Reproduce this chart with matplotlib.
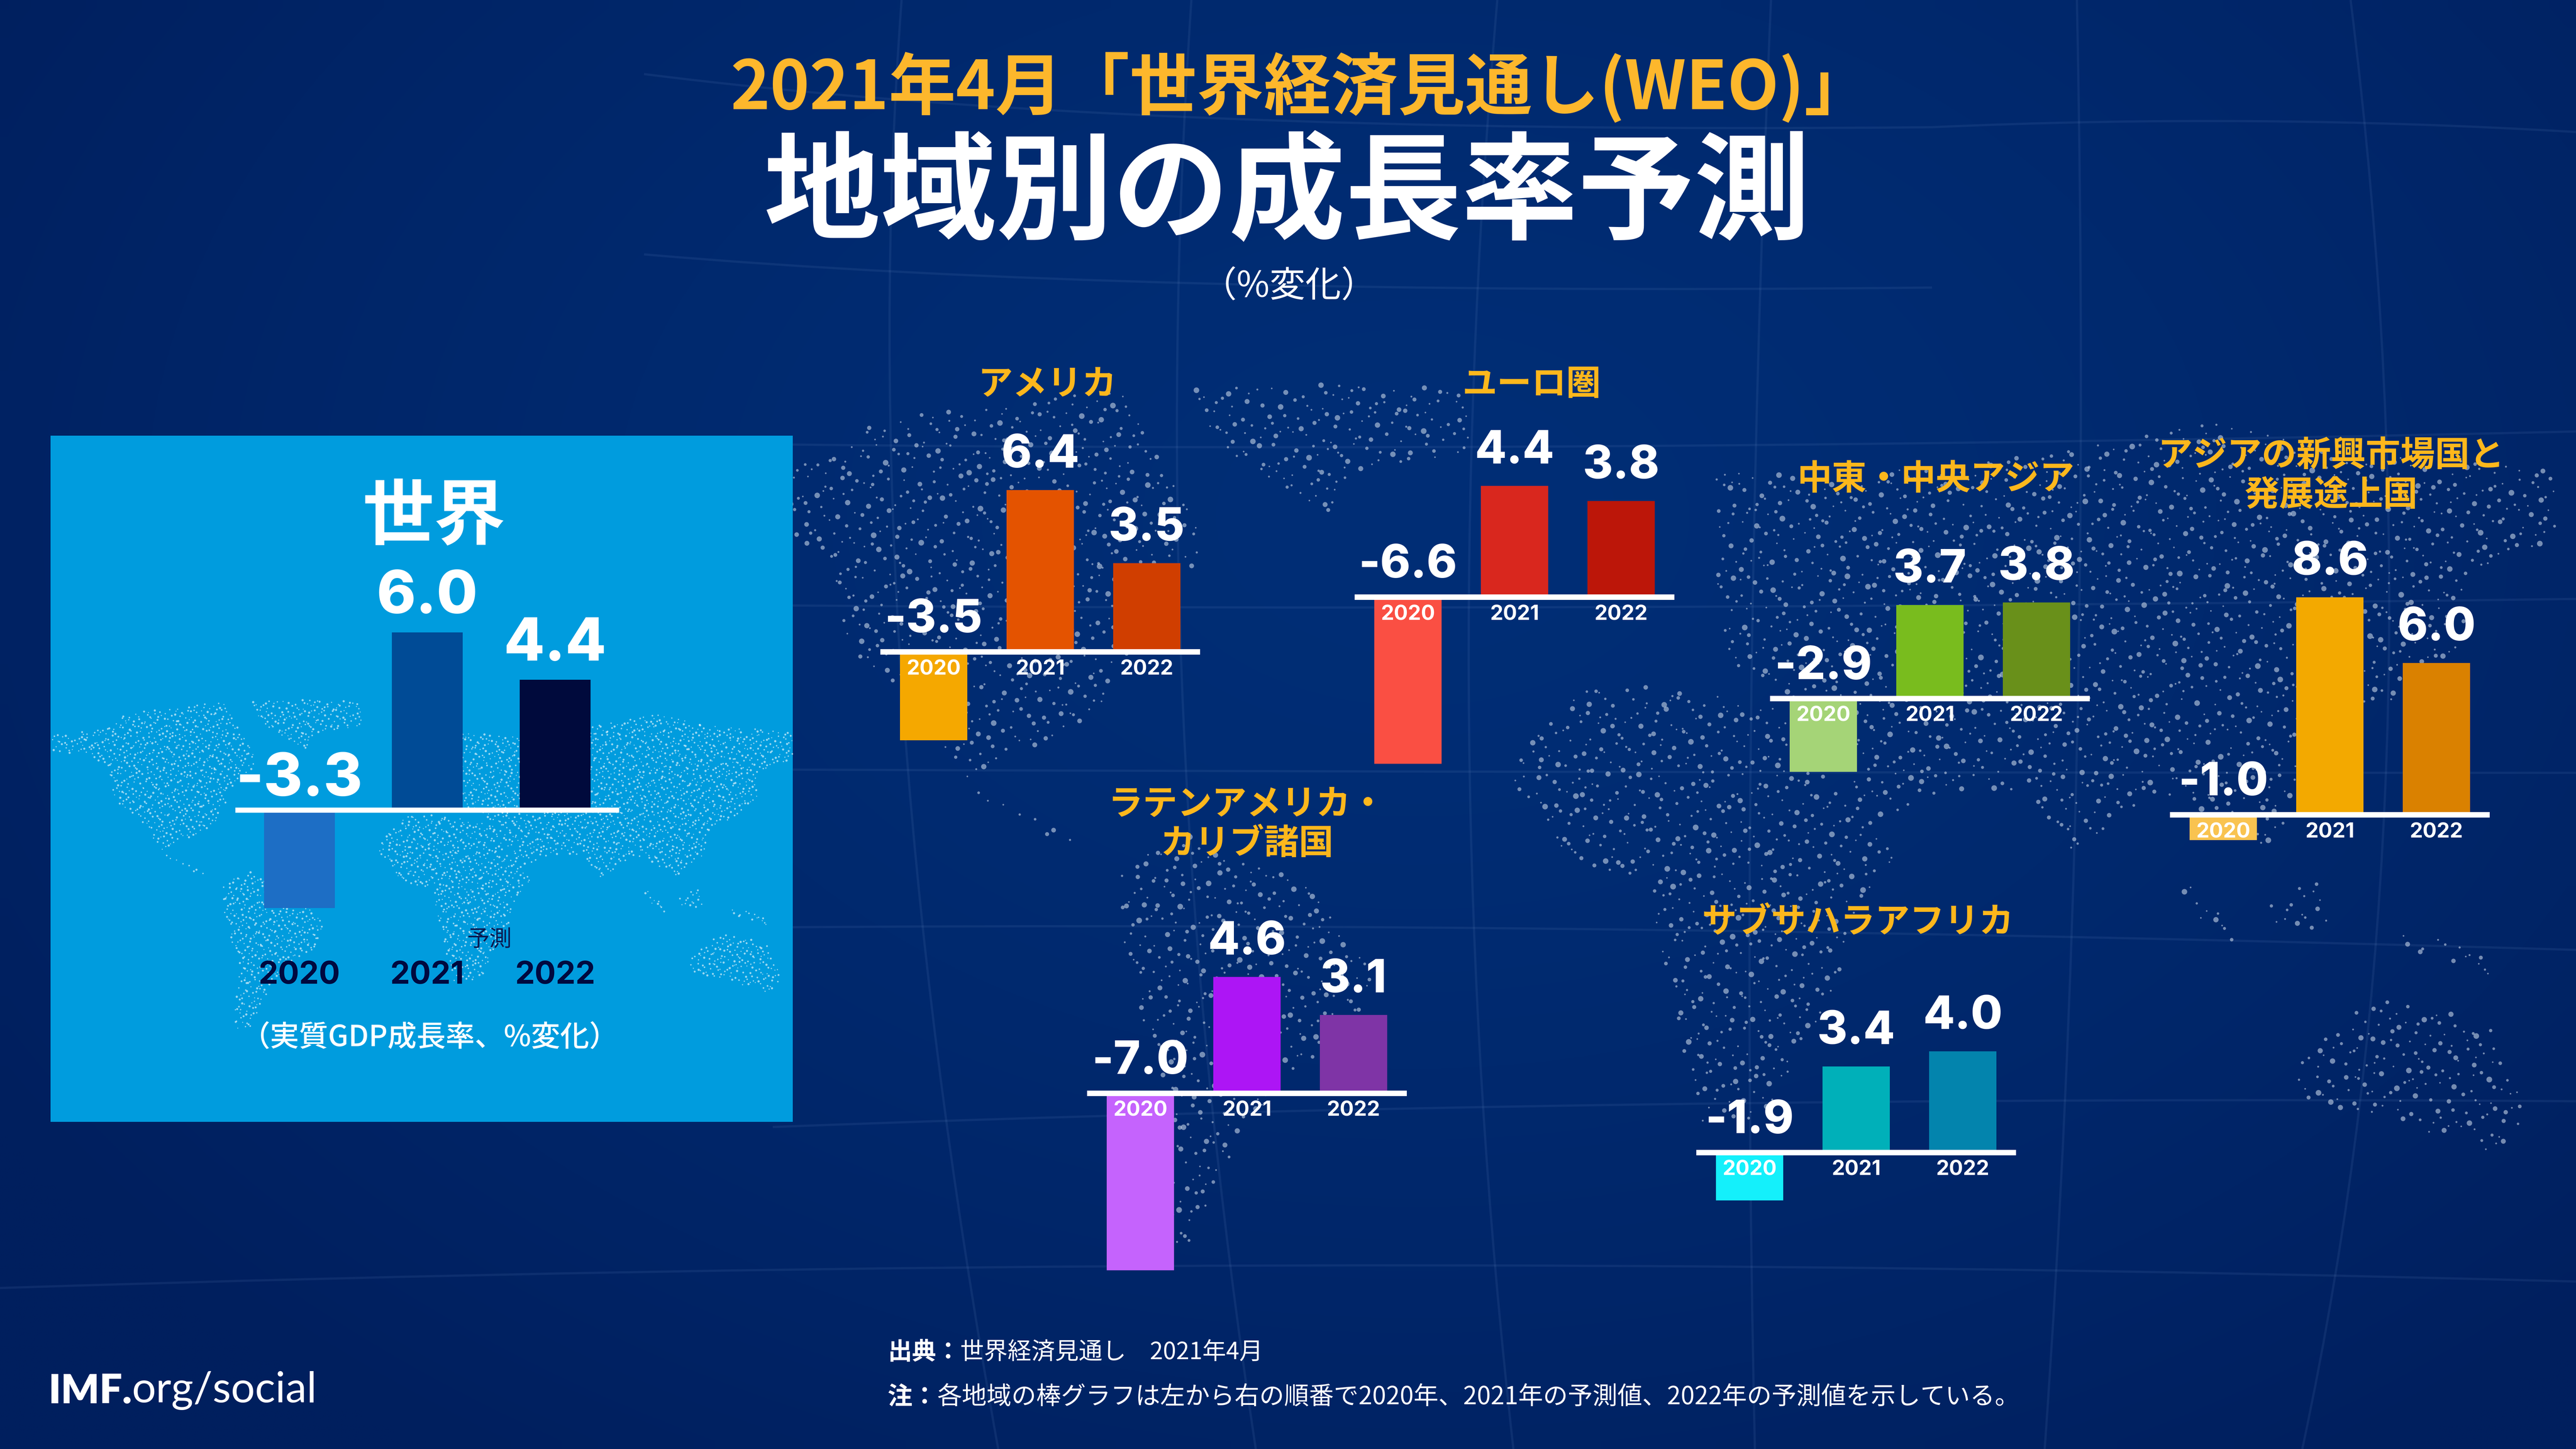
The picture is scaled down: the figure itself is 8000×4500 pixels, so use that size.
import numpy as np
import matplotlib
matplotlib.use('Agg')
import matplotlib.pyplot as plt
from matplotlib.path import Path
from matplotlib.patches import PathPatch, Rectangle

CJK = ['Noto Sans CJK JP', 'DejaVu Sans']
NUM = ['Inter', 'DejaVu Sans']
plt.rcParams['font.family'] = CJK

W, H = 8000, 4500
DPI = 500
GOLD = '#FDB71C'

# Data
years = ['2020', '2021', '2022']
world_growth = [-3.3, 6.0, 4.4]
us_growth = [-3.5, 6.4, 3.5]
euro_growth = [-6.6, 4.4, 3.8]
mideast_growth = [-2.9, 3.7, 3.8]
asia_growth = [-1.0, 8.6, 6.0]
latam_growth = [-7.0, 4.6, 3.1]
africa_growth = [-1.9, 3.4, 4.0]

world_colors = ['#1D6EC5', '#004B96', '#000A3C']
us_colors = ['#F5A800', '#E45300', '#D03E00']
euro_colors = ['#FA4F43', '#D9271E', '#BC1609']
mideast_colors = ['#A5D477', '#79BC1E', '#69901A']
asia_colors = ['#F9C350', '#F3A900', '#DA8100']
latam_colors = ['#C563FD', '#AD15F5', '#7F34A6']
africa_colors = ['#14F0FB', '#00B0B9', '#0384AD']

# Continent outlines for the dot map
continents = [
    [(95,705),(150,700),(210,690),(230,665),(300,655),(340,650),(420,640),(440,680),(470,730),(480,770),
     (440,800),(430,830),(405,880),(385,900),(360,915),(330,925),(310,945),(360,975),(405,1000),(340,975),
     (305,950),(270,890),(215,840),(200,770),(170,750),(95,740)],
    [(470,640),(580,635),(680,640),(675,690),(600,700),(570,740),(540,720),(490,680)],
    [(415,1010),(470,985),(560,1020),(605,1090),(590,1140),(540,1170),(500,1230),(470,1300),(440,1310),
     (440,1250),(450,1180),(420,1080)],
    [(705,930),(760,870),(820,870),(920,885),(950,950),(1000,990),(960,1050),(950,1110),(900,1200),
     (850,1210),(830,1120),(810,1020),(740,1000)],
    [(860,700),(950,710),(1010,700),(1110,690),(1230,665),(1350,690),(1485,700),(1485,760),(1420,780),
     (1420,830),(1370,880),(1330,900),(1320,950),(1270,1000),(1225,970),(1190,950),(1125,1000),(1090,950),
     (1040,950),(970,975),(930,890),(870,850),(860,780)],
    [(1210,1020),(1250,1060),(1240,1070),(1205,1030)],
    [(1270,1030),(1310,1020),(1315,1055),(1275,1060)],
    [(1360,1050),(1450,1085),(1440,1095),(1370,1070)],
    [(1285,1160),(1350,1110),(1440,1130),(1465,1210),(1440,1230),(1380,1210),(1300,1190)],
]

def halton(npts, base):
    out = np.zeros(npts)
    n = np.arange(1, npts + 1)
    f = 1.0
    while n.max() > 0:
        f /= base
        out += f * (n % base)
        n = n // base
    return out

def map_dots(npts):
    # Halton points over the map box, kept if inside a continent
    x = 95 + halton(npts, 2) * 1390
    y = 630 + halton(npts, 3) * 690
    s = halton(npts, 5)
    keep = np.zeros(npts, dtype=bool)
    for poly in continents:
        keep |= Path(poly + [poly[0]], closed=True).contains_points(np.column_stack([x, y]))
    return x[keep], y[keep], s[keep]

fig = plt.figure(figsize=(W / DPI, H / DPI), dpi=DPI)

# Background
bg = fig.add_axes([0, 0, 1, 1])
bg.set_xlim(0, W)
bg.set_ylim(H, 0)
bg.axis('off')
gx, gy = np.meshgrid(np.linspace(0, W, 160), np.linspace(0, H, 90))
t = np.clip(np.hypot((gx - 4400) / 5200, (gy - 1600) / 3600), 0, 1)[..., None] ** 1.5
grad = (1 - t) * np.array([1, 46, 118]) + t * np.array([0, 31, 94])
bg.imshow(grad / 255, extent=[0, W, H, 0], aspect='auto', zorder=0, interpolation='bilinear')

# Faint globe lines
arcs = [((2000,230),(3500,420),(6000,395)), ((6000,395),(7000,350),(8000,410)),
        ((2000,790),(3500,920),(6000,893)), ((2400,1380),(5000,1410),(8000,1340)),
        ((2400,1880),(5000,1900),(8000,1860)), ((2400,2390),(5000,2400),(8000,2400)), ((2400,2880),(5000,2860),(8000,2950)),
        ((2400,3500),(5000,3400),(8000,3420)), ((0,4000),(4000,3870),(8000,3980)),
        ((2800,0),(2650,2000),(3100,4500)), ((3700,0),(3550,2200),(3900,4500)), ((4650,0),(4450,2300),(4700,4500)),
        ((5500,0),(5400,2300),(5450,4500)), ((6450,0),(6500,2400),(6350,4500)), ((7300,0),(7600,2400),(7150,4500))]
for p0, p1, p2 in arcs:
    bg.add_patch(PathPatch(Path([p0, p1, p2], [Path.MOVETO, Path.CURVE3, Path.CURVE3]), fill=False,
                           edgecolor='#6f8fc8', lw=1.0, alpha=0.12, zorder=1))

# Big dot map, same outlines scaled up
mx, my, ms = map_dots(12000)
xs = 1.658 * mx
ys = 1200 + 1.531 * my
bx = 4657 + (xs - 1160) / 0.397
by = 3620 + (ys - 3098) / 0.381
bg.scatter(bx, by, s=(5 + 13 * ms**2)**2 * (72 / DPI)**2, c='#C5D3E6', alpha=0.6, linewidths=0, zorder=2)

# World panel with its small dot map
bg.add_patch(Rectangle((157, 1353), 2305, 2131, facecolor='#009CDE', edgecolor='none', zorder=3))
mx, my, ms = map_dots(12000)
bg.scatter(1.658 * mx, 1200 + 1.531 * my, s=(3 + 4 * ms)**2 * (72 / DPI)**2, c='white', alpha=0.6,
           linewidths=0, zorder=4)

def add_panel(left, base, width, per_unit, values, colors, bar_w, lw, num_size, year_size, year_color,
              num_gap, neg_gap, year_gap):
    ymin, ymax = -9, 10
    ax = fig.add_axes([left / W, 1 - (base - ymin * per_unit) / H, width / W, (ymax - ymin) * per_unit / H])
    ax.set_xlim(-0.5, 2.5)
    ax.set_ylim(ymin, ymax)
    ax.axis('off')
    ax.bar(range(3), values, width=bar_w, color=colors, zorder=2)
    ax.axhline(0, color='white', lw=lw * 72 / DPI, zorder=3)
    for i, v in enumerate(values):
        gap = neg_gap if v < 0 else num_gap
        ax.annotate(f'{v:.1f}', (i, max(v, 0)), xytext=(0, gap * 72 / DPI), textcoords='offset points', ha='center',
                    va='baseline', color='white', fontsize=num_size, fontweight=800, family=NUM, zorder=4)
        ax.annotate(years[i], (i, 0), xytext=(0, -year_gap * 72 / DPI), textcoords='offset points', ha='center',
                    va='baseline', color=year_color, fontsize=year_size, fontweight='bold', family=NUM, zorder=4)
    return ax

# Regional panels
region_left = [2734, 4207, 5497, 6739, 3376, 5268]
region_base = [2024, 1854, 2169, 2530, 3395, 3579]
region_values = [us_growth, euro_growth, mideast_growth, asia_growth, latam_growth, africa_growth]
region_colors = [us_colors, euro_colors, mideast_colors, asia_colors, latam_colors, africa_colors]
for left, base, vals, cols in zip(region_left, region_base, region_values, region_colors):
    add_panel(left, base, 993, 78.5, vals, cols, 0.633, 17, 20.5, 9.3, 'white', 70, 60, 71)

# World panel bars
add_panel(731, 2516, 1192, 92, world_growth, world_colors, 0.554, 16, 26.5, 14, '#00093F', 60, 45, 539)

txt = fig.add_axes([0, 0, 1, 1])
txt.set_xlim(0, W)
txt.set_ylim(H, 0)
txt.axis('off')

# Titles
txt.text(4040, 275, '2021年4月「世界経済見通し(WEO)」', color='#FDB72C', fontsize=30, fontweight='bold', ha='center', va='center')
txt.text(3998, 609, '地域別の成長率予測', color='white', fontsize=52, fontweight='bold', ha='center', va='center')
txt.text(4003, 889, '（%変化）', color='white', fontsize=16, ha='center', va='center')

# Region names
region_titles = [(3253, 1195, 'アメリカ'), (4757, 1195, 'ユーロ圏'), (6012, 1489, '中東・中央アジア'),
                 (7240, 1477, 'アジアの新興市場国と\n発展途上国'), (3872, 2560, 'ラテンアメリカ・\nカリブ諸国'),
                 (5770, 2865, 'サブサハラアフリカ')]
for x, y, name in region_titles:
    txt.text(x, y, name, color=GOLD, fontsize=15.5, fontweight='bold', ha='center', va='center', linespacing=1.16)

# World panel text
txt.text(1348, 1609, '世界', color='white', fontsize=32, fontweight='bold', ha='center', va='center')
txt.text(1520, 2918, '予測', color='#0B1A50', fontsize=10, ha='center', va='center')
txt.text(1335, 3223, '（実質GDP成長率、%変化）', color='white', fontsize=13, fontweight='medium', ha='center', va='center')

# Source and note
src = txt.text(2757, 4200, '出典：', color='white', fontsize=10.8, fontweight='bold', va='center')
txt.annotate('世界経済見通し　2021年4月', xy=(1, 0.5), xycoords=src, color='white', fontsize=10.6, va='center')
note = txt.text(2757, 4340, '注：', color='white', fontsize=11.1, fontweight='bold', va='center')
txt.annotate('各地域の棒グラフは左から右の順番で2020年、2021年の予測値、2022年の予測値を示している。', xy=(1, 0.5),
             xycoords=note, color='white', fontsize=11.1, va='center')

# Logo
logo = txt.text(150, 4358, 'IMF.', color='white', fontsize=18, fontweight='heavy', family='Lato', va='baseline')
txt.annotate('org/social', xy=(1, 0), xycoords=logo, color='white', fontsize=19, fontweight='normal', family='Lato',
             va='bottom')

fig.savefig('out.png', dpi=DPI)
